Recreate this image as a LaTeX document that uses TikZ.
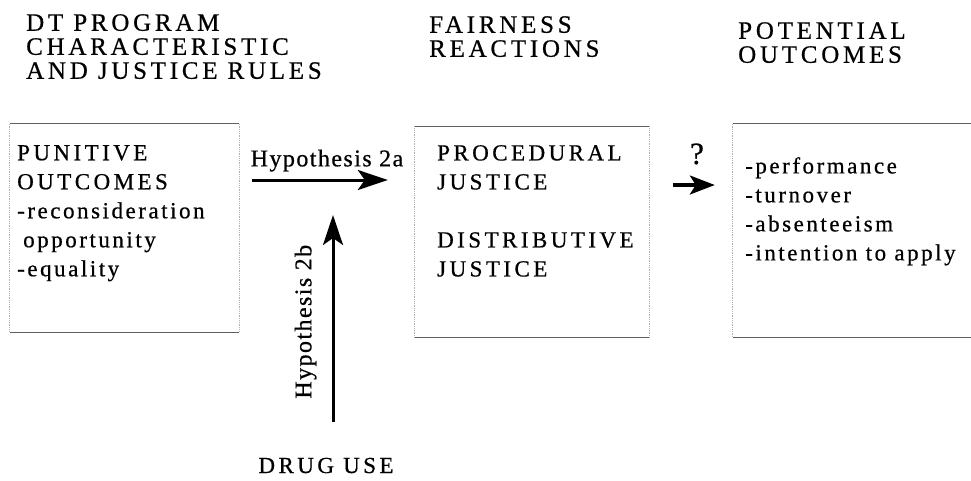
\documentclass[tikz,border=0pt]{standalone}
\usepackage{fontspec}
\setmainfont{Liberation Serif}
\newfontfamily\capsfont[LetterSpace=15,FakeBold=0.6]{Liberation Serif}
\newfontfamily\lowfont[LetterSpace=11,FakeBold=0.6]{Liberation Serif}
\newfontfamily\hypfont[LetterSpace=6,FakeBold=0.6]{Liberation Serif}
\usetikzlibrary{arrows.meta,positioning,calc}
\definecolor{DTrule}{RGB}{95,95,95}
\definecolor{DTside}{RGB}{175,175,175}

\begin{document}
\begin{tikzpicture}[x=1pt,y=-1pt,
    head/.style={font=\fontsize{25}{24}\selectfont\capsfont,align=left,anchor=north west,inner sep=0pt},
    body/.style={font=\fontsize{23}{29}\selectfont\capsfont,align=left,anchor=north west,inner sep=0pt},
    lbl/.style={font=\fontsize{24}{26}\selectfont\hypfont,inner sep=0pt},
    panel/.style={inner sep=0pt},
    rule/.style={DTrule,line width=1.1pt},
    side/.style={DTside,densely dotted,line width=0.8pt},
    bigarrow/.style={-{Stealth[length=30pt,width=20pt,inset=7pt]},line width=3pt}]
    \useasboundingbox (0,0) rectangle (971,480);
    % column headings
    \node[head] (rulestitle) at (26,14) {DT PROGRAM\\CHARACTERISTIC\\AND JUSTICE RULES};
    \node[head] (fairtitle) at (429,16) {FAIRNESS\\REACTIONS};
    \node[head] (outtitle) at (738,22) {POTENTIAL\\OUTCOMES};
    % the three panels
    \node[panel,minimum width=229pt,minimum height=208pt] (rulesbox) at (124.5,228) {};
    \node[panel,minimum width=234pt,minimum height=211pt] (fairbox) at (532,232) {};
    \node[panel,minimum width=240pt,minimum height=213pt] (outbox) at (853,230.5) {};
    \foreach \b in {rulesbox,fairbox,outbox}{
      \draw[rule] (\b.north west)--(\b.north east);
      \draw[rule] (\b.south west)--(\b.south east);
      \draw[side] (\b.north west)--(\b.south west);
      \draw[side] (\b.north east)--(\b.south east);
    }
    \node[body] (punitive) at (17,145) {PUNITIVE\\OUTCOMES\\\lowfont -reconsideration\\\lowfont\hspace{6pt}opportunity\\\lowfont -equality};
    \node[body] (justice) at (437,145) {PROCEDURAL\\JUSTICE\\[29pt]DISTRIBUTIVE\\JUSTICE};
    \node[body,font=\fontsize{23}{29}\selectfont\lowfont] (effects) at (745,157) {-performance\\-turnover\\-absenteeism\\-intention to apply};
    % drug use and the arrows
    \node[body,anchor=base] (druguse) at (326,473) {DRUG USE};
    \coordinate (h2a) at (0,180);
    \coordinate (h2btip) at (333,215);
    \coordinate (qrow) at (0,185);
    \draw[bigarrow,shorten <=13pt,shorten >=27pt] (rulesbox.east |- h2a)--(fairbox.west |- h2a)
      node[lbl,midway,above=7pt]{Hypothesis 2a};
    \draw[bigarrow,shorten <=36pt] (druguse.north -| h2btip)--(h2btip)
      node[lbl,pos=0.56,sloped,above=15pt]{Hypothesis 2b};
    \draw[-{Stealth[length=25pt,width=19pt,inset=6pt]},line width=3.2pt,shorten <=24pt,shorten >=18pt]
      (fairbox.east |- qrow)--(outbox.west |- qrow)
      node[midway,above=19pt,xshift=6pt,inner sep=0pt,font=\fontsize{31}{31}\selectfont\hypfont]{?};
\end{tikzpicture}
\end{document}
